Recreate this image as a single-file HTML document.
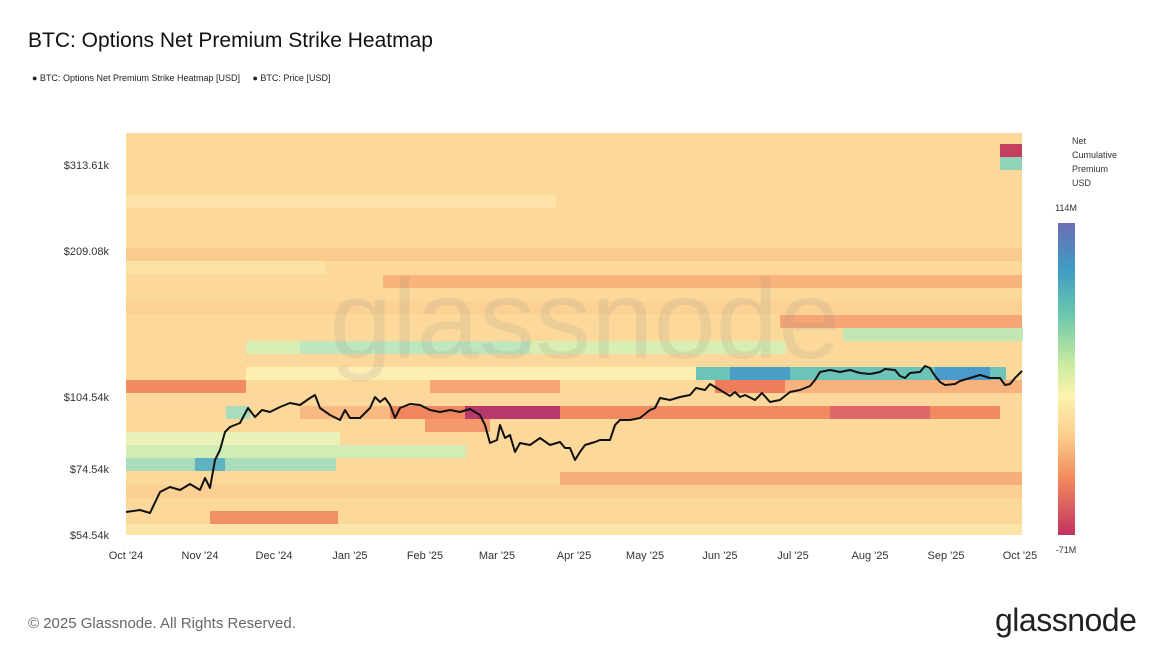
<!DOCTYPE html>
<html><head><meta charset="utf-8"><style>
body{margin:0;width:1170px;height:658px;background:#fff;font-family:"Liberation Sans",sans-serif;overflow:hidden;position:relative}
.t{position:absolute;color:#222}
</style></head><body>
<div class="t" style="left:28px;top:29px;font-size:21px;color:#111">BTC: Options Net Premium Strike Heatmap</div>
<div class="t" style="left:32px;top:73px;font-size:9px">● BTC: Options Net Premium Strike Heatmap [USD]&nbsp;&nbsp;&nbsp;&nbsp;&nbsp;● BTC: Price [USD]</div>
<svg width="1170" height="658" style="position:absolute;left:0;top:0">
<defs><linearGradient id="cb" x1="0" y1="0" x2="0" y2="1">
<stop offset="0" stop-color="#6b6db3"/><stop offset="0.15" stop-color="#3e9dc3"/><stop offset="0.3" stop-color="#6cc9ac"/><stop offset="0.45" stop-color="#c9eaa0"/><stop offset="0.55" stop-color="#fbf4b0"/><stop offset="0.68" stop-color="#fccf8c"/><stop offset="0.82" stop-color="#f28a5e"/><stop offset="1" stop-color="#c2325f"/></linearGradient></defs>
<rect x="126" y="133" width="896" height="402" fill="#fcd99b"/>
<g>
<rect x="126" y="195" width="430" height="13" fill="#fde3a8"/>
<rect x="126" y="248" width="896" height="13" fill="#fbcb8e"/>
<rect x="126" y="261" width="200" height="13" fill="#fde2a6"/>
<rect x="383" y="275" width="639" height="13" fill="#f8b47a"/>
<rect x="126" y="301" width="896" height="13" fill="#fbd294"/>
<rect x="780" y="315" width="242" height="13" fill="#f6a675"/>
<rect x="843" y="328" width="180" height="13" fill="#c2e6b4"/>
<rect x="246" y="341" width="540" height="13" fill="#d8eeb2"/>
<rect x="300" y="341" width="230" height="13" fill="#bfe6bc"/>
<rect x="246" y="367" width="450" height="13" fill="#fdeeb4"/>
<rect x="696" y="367" width="310" height="13" fill="#6cc3b8"/>
<rect x="730" y="367" width="60" height="13" fill="#4b9fc6"/>
<rect x="935" y="367" width="55" height="13" fill="#4a9bcc"/>
<rect x="126" y="380" width="120" height="13" fill="#f18c62"/>
<rect x="430" y="380" width="130" height="13" fill="#f6a575"/>
<rect x="715" y="380" width="70" height="13" fill="#ee7d5c"/>
<rect x="785" y="380" width="237" height="13" fill="#f8b27c"/>
<rect x="126" y="393" width="896" height="13" fill="#fdd89c"/>
<rect x="300" y="406" width="90" height="13" fill="#f9b983"/>
<rect x="390" y="406" width="75" height="13" fill="#f08760"/>
<rect x="465" y="406" width="95" height="13" fill="#b7386a"/>
<rect x="560" y="406" width="440" height="13" fill="#f08a60"/>
<rect x="830" y="406" width="100" height="13" fill="#e0686a"/>
<rect x="226" y="406" width="24" height="13" fill="#a8dcbc"/>
<rect x="425" y="419" width="65" height="13" fill="#f49a6a"/>
<rect x="126" y="432" width="214" height="13" fill="#e8f2b8"/>
<rect x="126" y="445" width="340" height="13" fill="#d2ecb6"/>
<rect x="126" y="458" width="210" height="13" fill="#a9dbbd"/>
<rect x="195" y="458" width="30" height="13" fill="#5fb3c0"/>
<rect x="560" y="472" width="462" height="13" fill="#f7ad78"/>
<rect x="126" y="485" width="896" height="13" fill="#fbd092"/>
<rect x="210" y="511" width="128" height="13" fill="#f19066"/>
<rect x="126" y="524" width="896" height="11" fill="#fde4a8"/>
<rect x="1000" y="144" width="22" height="13" fill="#c4405f"/>
<rect x="1000" y="157" width="22" height="13" fill="#8fd4b8"/>
</g>
<text x="585" y="358" font-size="112" fill="#888" fill-opacity="0.14" text-anchor="middle" font-family="Liberation Sans">glassnode</text>
<polyline fill="none" stroke="#111" stroke-width="2" stroke-linejoin="round" points="126,512 140,510 150,513 160,492 170,487 180,490 190,484 200,490 205,478 210,488 215,460 220,450 225,432 230,427 240,423 248,408 255,417 262,410 270,412 280,407 290,403 300,405 310,398 315,395 320,408 330,415 340,420 345,410 350,418 360,418 370,408 375,397 380,402 385,398 390,405 395,418 400,408 410,404 420,405 430,410 440,412 450,410 460,412 470,409 480,415 485,425 490,443 497,440 500,425 505,438 510,435 515,452 520,443 530,445 540,438 550,445 560,442 565,448 570,448 575,460 580,452 585,445 595,442 600,440 610,440 615,425 620,420 630,420 640,418 650,410 655,408 660,398 670,400 680,397 690,395 696,388 705,390 710,384 720,390 730,396 735,392 740,397 745,395 755,400 762,393 770,402 780,400 790,392 800,390 810,386 815,380 820,372 830,370 840,372 850,370 860,373 870,374 880,372 885,369 895,370 900,376 905,378 910,373 920,372 925,366 930,368 935,376 940,382 945,385 955,384 960,381 970,378 980,375 990,378 1000,378 1005,385 1010,384 1015,378 1022,371"/>
<g font-size="11" fill="#333" text-anchor="end">
<text x="109" y="169">$313.61k</text><text x="109" y="255">$209.08k</text><text x="109" y="401">$104.54k</text><text x="109" y="473">$74.54k</text><text x="109" y="539">$54.54k</text></g>
<g font-size="11" fill="#333" text-anchor="middle">
<text x="126" y="559">Oct '24</text><text x="200" y="559">Nov '24</text><text x="274" y="559">Dec '24</text><text x="350" y="559">Jan '25</text><text x="425" y="559">Feb '25</text><text x="497" y="559">Mar '25</text><text x="574" y="559">Apr '25</text><text x="645" y="559">May '25</text><text x="720" y="559">Jun '25</text><text x="793" y="559">Jul '25</text><text x="870" y="559">Aug '25</text><text x="946" y="559">Sep '25</text><text x="1020" y="559">Oct '25</text></g>
<g font-size="9" fill="#333"><text x="1072" y="144">Net</text><text x="1072" y="158">Cumulative</text><text x="1072" y="172">Premium</text><text x="1072" y="186">USD</text>
<text x="1066" y="211" text-anchor="middle">114M</text><text x="1066" y="553" text-anchor="middle">-71M</text></g>
<rect x="1058" y="223" width="17" height="312" fill="url(#cb)"/>
</svg>
<div class="t" style="left:28px;top:615px;font-size:15px;color:#666">© 2025 Glassnode. All Rights Reserved.</div>
<div class="t" style="left:995px;top:602px;font-size:32px;color:#222;letter-spacing:-0.5px">glassnode</div>
</body></html>
